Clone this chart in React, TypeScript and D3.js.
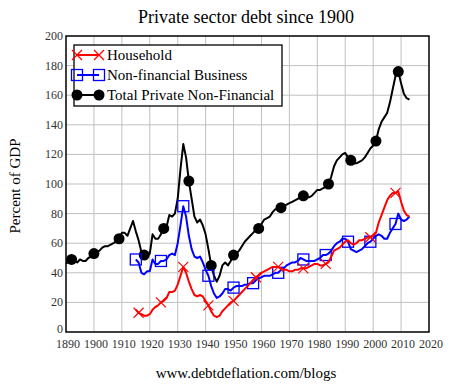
import React from 'react';
import * as d3 from 'd3';

const title = 'Private sector debt since 1900';
const yLabel = 'Percent of GDP';
const footer = 'www.debtdeflation.com/blogs';

const xTicks = [1890, 1900, 1910, 1920, 1930, 1940, 1950, 1960, 1970, 1980, 1990, 2000, 2010, 2020];
const yTicks = [0, 20, 40, 60, 80, 100, 120, 140, 160, 180, 200];

// Total private non-financial, 1890..2013
const totalStart = 1890;
const totalValues = [
  46, 48, 49, 48, 47, 49, 48, 48, 50, 51,
  53, 54, 55, 57, 58, 58, 59, 60, 61, 63,
  67, 67, 65, 70, 75, 68, 62, 54, 52, 51,
  53, 66, 63, 63, 66, 70, 71, 79, 78, 80,
  90, 110, 127, 118, 102, 90, 78, 74, 76, 72,
  66, 56, 45, 38, 34, 38, 45, 47, 45, 48,
  52, 53, 55, 58, 61, 63, 65, 67, 69, 70,
  73, 76, 77, 78, 81, 83, 83, 84, 85, 86,
  87, 88, 89, 90, 91, 92, 91, 91, 92, 94,
  96, 96, 97, 98, 100, 105, 112, 116, 118, 120,
  121, 118, 116, 114, 114, 115, 116, 118, 121, 124,
  126, 129, 137, 142, 145, 148, 155, 164, 173, 176,
  168, 161, 158, 157,
];
const totalMarkers = [1892, 1900, 1909, 1918, 1925, 1934, 1942, 1950, 1959, 1967, 1975, 1984, 1992, 2001, 2009];

// Non-financial business, 1915..2013
const businessStart = 1915;
const businessValues = [
  49, 47, 40, 39, 41,
  41, 49, 46, 46, 48, 48, 49, 52, 53, 52,
  60, 72, 85, 78, 65, 56, 51, 50, 51, 47,
  42, 38, 31, 26, 23, 24, 26, 29, 29, 28,
  30, 31, 31, 31, 32, 32, 33, 33, 35, 36,
  37, 38, 38, 38, 39, 40, 40, 42, 43, 45,
  46, 47, 47, 48, 50, 49, 48, 48, 48, 48,
  49, 50, 52, 52, 53, 55, 58, 60, 61, 63,
  63, 61, 56, 55, 54, 55, 56, 58, 60, 61,
  63, 65, 66, 65, 63, 63, 67, 70, 73, 80,
  76, 75, 76, 78,
];
const businessMarkers = [1915, 1924, 1932, 1941, 1950, 1957, 1966, 1975, 1983, 1991, 1999, 2008];

// Household, 1915..2013
const householdStart = 1915;
const householdValues = [
  15, 13, 12, 11, 11,
  12, 15, 17, 18, 20, 21, 23, 27, 27, 28,
  32, 38, 44, 40, 34, 29, 25, 24, 25, 24,
  21, 18, 14, 11, 10, 11, 14, 16, 18, 20,
  21, 23, 25, 27, 29, 31, 33, 35, 37, 38,
  40, 41, 42, 43, 44, 44, 44, 43, 42, 42,
  41, 41, 42, 42, 43, 43, 43, 44, 45, 46,
  46, 45, 45, 46, 47, 51, 55, 56, 57, 59,
  61, 62, 60, 59, 60, 62, 62, 63, 64, 64,
  65, 67, 74, 79, 84, 89, 92, 94, 94, 95,
  88, 82, 79, 78,
];
const householdMarkers = [1916, 1924, 1932, 1941, 1950, 1958, 1966, 1975, 1983, 1999, 2008];

const seriesNames = ['Household', 'Non-financial Business', 'Total Private Non-Financial'];

const FONT = '"Liberation Serif", "Times New Roman", serif';

type Pt = { year: number; value: number };
const toPoints = (start: number, vals: number[]): Pt[] => vals.map((v, i) => ({ year: start + i, value: v }));

function Marker({ kind, cx, cy, color }: { kind: string; cx: number; cy: number; color: string }) {
  if (kind === 'x') {
    const s = 5;
    return (
      <g stroke={color} strokeWidth={1.2}>
        <line x1={cx - s} y1={cy - s} x2={cx + s} y2={cy + s} />
        <line x1={cx - s} y1={cy + s} x2={cx + s} y2={cy - s} />
      </g>
    );
  }
  if (kind === 'square') {
    const s = 5.5;
    return <rect x={cx - s} y={cy - s} width={2 * s} height={2 * s} fill="none" stroke={color} strokeWidth={1.3} />;
  }
  return <circle cx={cx} cy={cy} r={5.5} fill={color} />;
}

export default function App() {
  const width = 451;
  const height = 385;

  const x = d3.scaleLinear().domain([1890, 2020]).range([66, 429]);
  const y = d3.scaleLinear().domain([0, 200]).range([332, 36]);

  const line = d3.line<Pt>().x(d => x(d.year)).y(d => y(d.value));

  const series = [
    { name: seriesNames[0], color: '#ff0000', kind: 'x', pts: toPoints(householdStart, householdValues), marks: householdMarkers },
    { name: seriesNames[1], color: '#0000ff', kind: 'square', pts: toPoints(businessStart, businessValues), marks: businessMarkers },
    { name: seriesNames[2], color: '#000000', kind: 'circle', pts: toPoints(totalStart, totalValues), marks: totalMarkers },
  ];

  const drawOrder = [series[2], series[1], series[0]];

  return (
    <svg width={width} height={height} style={{ position: 'absolute', left: 0, top: 0, background: '#fff' }} fontFamily={FONT}>
      <rect x={0} y={0} width={width} height={height} fill="#fff" />
      <text x={246} y={23} textAnchor="middle" fontSize={18} fill="#000">{title}</text>

      {/* grid */}
      <g stroke="#c0c0c0" strokeWidth={1}>
        {xTicks.slice(1, -1).map(t => (
          <line key={'gx' + t} x1={x(t)} x2={x(t)} y1={y(200)} y2={y(0)} />
        ))}
        {yTicks.slice(1, -1).map(t => (
          <line key={'gy' + t} x1={x(1890)} x2={x(2020)} y1={y(t)} y2={y(t)} />
        ))}
      </g>

      {/* series */}
      {drawOrder.map(s => (
        <g key={s.name}>
          <path d={line(s.pts) || ''} fill="none" stroke={s.color} strokeWidth={2} strokeLinejoin="round" />
          {s.marks.map(yr => {
            const p = s.pts.find(d => d.year === yr);
            if (!p) return null;
            return <Marker key={yr} kind={s.kind} cx={x(p.year)} cy={y(p.value)} color={s.color} />;
          })}
        </g>
      ))}

      {/* frame */}
      <rect x={x(1890)} y={y(200)} width={x(2020) - x(1890)} height={y(0) - y(200)} fill="none" stroke="#000" strokeWidth={1.5} />

      {/* y tick labels */}
      {yTicks.map(t => (
        <text key={'yl' + t} x={63} y={t === 0 ? y(t) + 1 : y(t) + 4} textAnchor="end" fontSize={12} fill="#333">{t}</text>
      ))}
      {/* x tick labels */}
      {xTicks.map(t => (
        <text key={'xl' + t} x={x(t) + 2} y={348} textAnchor="middle" fontSize={12} fill="#333">{t}</text>
      ))}

      <text transform={`translate(20,186) rotate(-90)`} textAnchor="middle" fontSize={15} fill="#000">{yLabel}</text>
      <text x={246} y={378} textAnchor="middle" fontSize={15} fill="#000">{footer}</text>

      {/* legend */}
      <rect x={74} y={45} width={208} height={61} fill="#fff" stroke="#000" strokeWidth={1.3} />
      {series.map((s, i) => {
        const cy = 55 + i * 20;
        return (
          <g key={'lg' + s.name}>
            <line x1={77} x2={99} y1={cy} y2={cy} stroke={s.color} strokeWidth={2} />
            <Marker kind={s.kind} cx={77} cy={cy} color={s.color} />
            <Marker kind={s.kind} cx={99} cy={cy} color={s.color} />
            <text x={107} y={cy + 5} fontSize={15} fill="#000">{s.name}</text>
          </g>
        );
      })}
    </svg>
  );
}
